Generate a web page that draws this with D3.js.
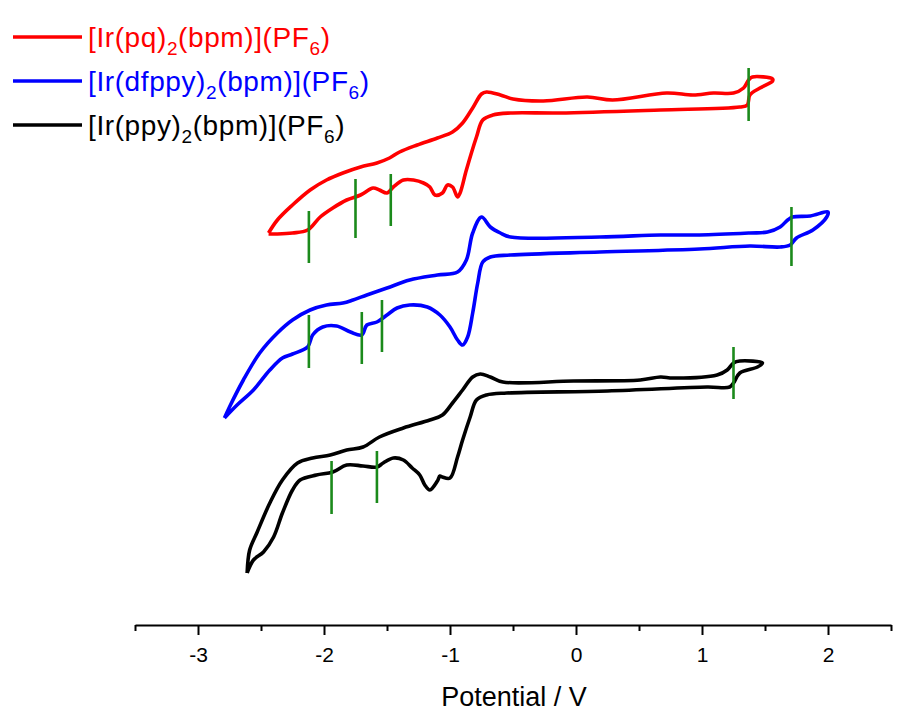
<!DOCTYPE html>
<html>
<head>
<meta charset="utf-8">
<script src="https://cdn.jsdelivr.net/npm/d3@7"></script>
<style>
  body { margin: 0; background: #fff; }
  text { font-family: Arial, "Liberation Sans", sans-serif; }
</style>
</head>
<body>
<script>
// Cyclic voltammograms, potential in V, current in arbitrary (offset) units
const potentialTicks = [-3, -2, -1, 0, 1, 2];
const minorTicks = [-3.5, -2.5, -1.5, -0.5, 0.5, 1.5, 2.5];

// [E, I] pairs, traced once round the loop
const pqCV = [
  [-2.44, 39.4], [-2.37, 40.7], [-2.25, 42.2], [-2.11, 43.7], [-1.98, 44.7], [-1.85, 45.4],
  [-1.71, 46.0], [-1.58, 46.4], [-1.48, 46.9], [-1.40, 47.5], [-1.26, 48.2], [-1.10, 48.9],
  [-0.98, 49.5], [-0.90, 50.4], [-0.82, 51.9], [-0.75, 53.3], [-0.71, 53.5], [-0.60, 53.2],
  [-0.50, 52.8], [-0.26, 52.6], [0.09, 53.0], [0.29, 52.7], [0.72, 53.4], [0.93, 53.2],
  [1.09, 53.4], [1.25, 53.4], [1.33, 53.9], [1.37, 54.7], [1.40, 55.0], [1.56, 54.8],
  [1.56, 54.6], [1.46, 53.9], [1.38, 53.2], [1.36, 52.2], [1.30, 52.0], [0.67, 51.7],
  [-0.13, 51.4], [-0.52, 51.4], [-0.66, 51.2], [-0.74, 50.7], [-0.79, 49.0], [-0.87, 45.7],
  [-0.92, 43.4], [-0.94, 43.0], [-0.98, 44.0], [-1.02, 44.2], [-1.06, 43.4], [-1.12, 43.2],
  [-1.16, 44.0], [-1.21, 44.4], [-1.29, 44.7], [-1.37, 44.7], [-1.45, 44.0], [-1.50, 43.4],
  [-1.56, 43.7], [-1.61, 43.9], [-1.71, 43.2], [-1.82, 42.7], [-1.93, 41.9], [-2.03, 41.0],
  [-2.13, 39.7], [-2.25, 39.4], [-2.37, 39.3], [-2.44, 39.3]
];

const dfppyCV = [
  [-2.79, 20.9], [-2.75, 22.0], [-2.64, 24.7], [-2.51, 27.4], [-2.37, 29.4], [-2.25, 30.7],
  [-2.11, 31.7], [-1.98, 32.2], [-1.85, 32.4], [-1.77, 32.7], [-1.66, 33.2], [-1.50, 33.9],
  [-1.32, 34.7], [-1.10, 35.2], [-0.94, 35.5], [-0.87, 36.7], [-0.82, 39.4], [-0.75, 41.0],
  [-0.68, 40.0], [-0.60, 39.4], [-0.52, 39.0], [0.19, 39.0], [0.67, 39.2], [0.98, 39.2],
  [1.38, 39.4], [1.52, 39.5], [1.62, 40.0], [1.68, 40.7], [1.72, 41.0], [1.86, 41.1],
  [2.00, 41.5], [1.99, 41.0], [1.88, 39.7], [1.75, 38.9], [1.70, 38.2], [1.62, 38.0],
  [1.38, 38.1], [0.98, 37.8], [0.19, 37.5], [-0.52, 37.2], [-0.68, 37.0], [-0.74, 36.5],
  [-0.78, 34.4], [-0.82, 31.4], [-0.86, 29.0], [-0.90, 28.2], [-0.94, 28.7], [-1.00, 30.0],
  [-1.08, 31.2], [-1.18, 32.0], [-1.32, 32.2], [-1.42, 31.9], [-1.50, 31.2], [-1.58, 30.5],
  [-1.66, 30.2], [-1.70, 29.2], [-1.79, 29.5], [-1.90, 30.1], [-2.01, 30.0], [-2.09, 29.2],
  [-2.13, 28.0], [-2.25, 27.3], [-2.33, 26.9], [-2.43, 25.7], [-2.56, 23.7], [-2.69, 22.2],
  [-2.79, 20.9]
];

const ppyCV = [
  [-2.61, 5.4], [-2.59, 7.7], [-2.53, 9.5], [-2.43, 12.4], [-2.33, 14.7], [-2.21, 16.4],
  [-2.09, 16.9], [-1.95, 17.2], [-1.82, 17.7], [-1.69, 18.0], [-1.56, 19.0], [-1.37, 19.9],
  [-1.16, 20.7], [-1.06, 21.2], [-0.98, 22.4], [-0.90, 23.7], [-0.82, 25.0], [-0.76, 25.3],
  [-0.68, 25.0], [-0.58, 24.5], [-0.02, 24.6], [0.51, 24.7], [0.67, 25.0], [0.77, 24.9],
  [1.12, 25.2], [1.20, 25.7], [1.25, 26.4], [1.30, 26.6], [1.48, 26.4], [1.44, 26.0],
  [1.30, 25.4], [1.25, 24.4], [1.22, 24.0], [1.04, 24.0], [0.25, 23.6], [-0.55, 23.4],
  [-0.71, 23.2], [-0.79, 22.7], [-0.84, 21.0], [-0.90, 18.7], [-0.94, 17.0], [-1.00, 14.9],
  [-1.06, 15.0], [-1.08, 15.1], [-1.10, 14.6], [-1.16, 13.7], [-1.20, 14.2], [-1.24, 15.2],
  [-1.30, 15.9], [-1.37, 16.7], [-1.45, 16.9], [-1.53, 16.4], [-1.58, 16.0], [-1.69, 16.1],
  [-1.82, 16.2], [-1.93, 15.5], [-2.06, 15.2], [-2.19, 14.7], [-2.25, 13.7], [-2.33, 11.4],
  [-2.40, 9.0], [-2.48, 7.5], [-2.56, 6.7], [-2.61, 5.4]
];

// half-wave potential markers: [E, I low, I high]
const pqMarks = [[-2.12, 36.4, 41.6], [-1.75, 38.9, 44.8], [-1.47, 40.1, 45.3], [1.37, 50.6, 55.9]];
const dfppyMarks = [[-2.12, 25.9, 31.2], [-1.70, 26.3, 31.5], [-1.54, 27.5, 32.7], [1.71, 36.1, 42.0]];
const ppyMarks = [[-1.94, 11.3, 16.6], [-1.58, 12.4, 17.6], [1.25, 22.8, 28.0]];

const series = [
  {name: "pq", color: "#ff0000", cv: pqCV, marks: pqMarks},
  {name: "dfppy", color: "#0000ff", cv: dfppyCV, marks: dfppyMarks},
  {name: "ppy", color: "#000000", cv: ppyCV, marks: ppyMarks}
];

const width = 910, height = 711;

const x = d3.scaleLinear().domain([-3.5, 2.5]).range([135, 891]);
const y = d3.scaleLinear().domain([0, 62.7]).range([627, 0]);

const svg = d3.select("body").append("svg")
    .attr("width", width)
    .attr("height", height);

const line = d3.line()
    .x(d => x(d[0]))
    .y(d => y(d[1]))
    .curve(d3.curveCatmullRom.alpha(0.5));

// CV curves
svg.selectAll("path.cv")
    .data(series)
    .enter().append("path")
    .attr("class", "cv")
    .attr("d", d => line(d.cv))
    .attr("fill", "none")
    .attr("stroke", d => d.color)
    .attr("stroke-width", 3.6)
    .attr("stroke-linejoin", "round");

// green markers
series.forEach(s => {
    svg.selectAll(null)
        .data(s.marks)
        .enter().append("line")
        .attr("x1", d => x(d[0]))
        .attr("x2", d => x(d[0]))
        .attr("y1", d => y(d[1]))
        .attr("y2", d => y(d[2]))
        .attr("stroke", "#1b8a1b")
        .attr("stroke-width", 2.6);
});

// x axis: minor ticks in their own group, then major ticks with labels
const axisY = 625;
svg.append("g")
    .attr("transform", `translate(0,${axisY})`)
    .call(d3.axisBottom(x).tickValues(minorTicks).tickSize(6).tickSizeOuter(0).tickFormat(""))
    .call(g => g.selectAll("line").attr("stroke-width", 2))
    .call(g => g.select("path.domain").attr("stroke-width", 2));

const gx = svg.append("g")
    .attr("transform", `translate(0,${axisY})`)
    .call(d3.axisBottom(x).tickValues(potentialTicks).tickSize(10).tickSizeOuter(0)
        .tickFormat(d => String(d)));
gx.select("path.domain").remove();
gx.selectAll("line").attr("stroke-width", 2);
gx.selectAll("text")
    .attr("y", 37)
    .attr("dy", 0)
    .style("font-size", "21px")
    .style("font-family", "Arial, 'Liberation Sans', sans-serif")
    .attr("fill", "#000");

svg.append("text")
    .attr("x", 514)
    .attr("y", 706)
    .attr("text-anchor", "middle")
    .style("font-size", "27px")
    .text("Potential / V");

// legend
const legendY = [37, 81, 125];
const legend = svg.selectAll("g.legend")
    .data(series)
    .enter().append("g")
    .attr("class", "legend")
    .attr("transform", (d, i) => `translate(0,${legendY[i]})`);

legend.append("line")
    .attr("x1", 13).attr("x2", 82)
    .attr("stroke", d => d.color)
    .attr("stroke-width", 3.6);

const lt = legend.append("text")
    .attr("x", 88)
    .attr("y", 10)
    .attr("fill", d => d.color)
    .style("font-size", "28px")
    .style("letter-spacing", "0.6px");
lt.append("tspan").text(d => `[Ir(${d.name})`);
lt.append("tspan").attr("dy", 8).style("font-size", "19px").text("2");
lt.append("tspan").attr("dy", -8).text("(bpm)](PF");
lt.append("tspan").attr("dy", 8).style("font-size", "19px").text("6");
lt.append("tspan").attr("dy", -8).text(")");
</script>
</body>
</html>
